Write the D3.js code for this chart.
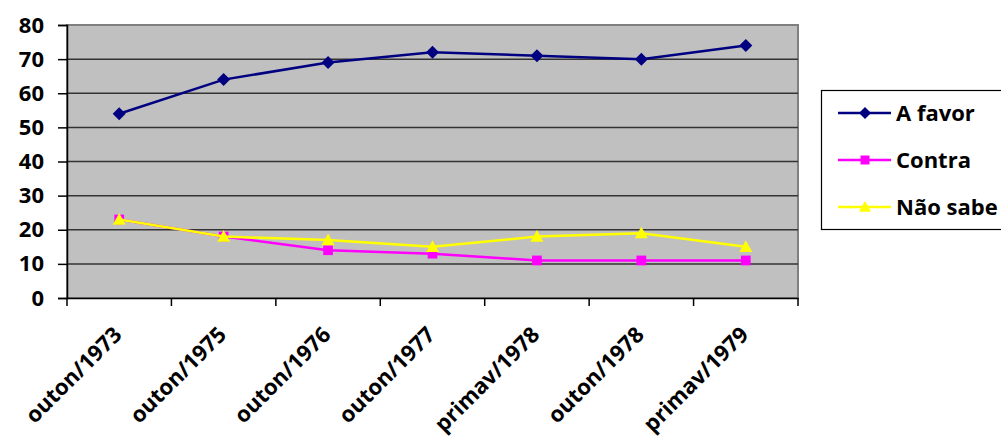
<!DOCTYPE html>
<html><head><meta charset="utf-8">
<script src="https://cdn.jsdelivr.net/npm/d3@7"></script>
<style>body{margin:0;background:#fff}svg{display:block}text{font-family:"Open Sans",sans-serif;font-weight:bold}</style>
</head><body>
<script>
const categories = ["outon/1973","outon/1975","outon/1976","outon/1977","primav/1978","outon/1978","primav/1979"];
const aFavor = [54,64,69,72,71,70,74];
const contra = [23,18,14,13,11,11,11];
const naoSabe = [23,18,17,15,18,19,15];
const yTicks = [0,10,20,30,40,50,60,70,80];
const seriesNames = ["A favor","Contra","Não sabe"];
const series = [
  {name:seriesNames[0], values:aFavor, color:"#000080", shape:"diamond"},
  {name:seriesNames[1], values:contra, color:"#FF00FF", shape:"square"},
  {name:seriesNames[2], values:naoSabe, color:"#FFFF00", shape:"triangle"}
];
const W=1001,H=444;
const svg=d3.select("body").append("svg").attr("width",W).attr("height",H);
const L=67,R=798,T=25,B=298;
const x=d3.scaleBand().domain(categories).range([L,R]);
const y=d3.scaleLinear().domain([0,80]).range([B,T]);
svg.append("rect").attr("x",L).attr("y",T).attr("width",R-L).attr("height",B-T).attr("fill","#C0C0C0").attr("stroke","#808080").attr("stroke-width",2);
svg.append("g").selectAll("line").data(yTicks.filter(d=>d>0&&d<80)).join("line")
  .attr("x1",L).attr("x2",R).attr("y1",d=>y(d)).attr("y2",d=>y(d)).attr("stroke","#333").attr("stroke-width",1.5);
// y axis
const ya=svg.append("g").attr("transform",`translate(${L},0)`).call(d3.axisLeft(y).tickValues(yTicks).tickSize(9).tickPadding(14));
ya.select(".domain").attr("stroke","#000").attr("stroke-width",1.5);
ya.selectAll(".tick line").attr("stroke","#000").attr("stroke-width",1.5);
ya.selectAll("text").attr("font-size",22).attr("fill","#000").attr("font-family","Open Sans").attr("font-weight","bold");
// x axis
const xa=svg.append("g").attr("transform",`translate(0,${B})`).call(d3.axisBottom(x).tickSize(0).tickFormat(""));
xa.select(".domain").attr("stroke","#000").attr("stroke-width",1.5);
const bounds=categories.map((c,i)=>x(c)).concat([R]);
svg.append("g").selectAll("line").data(bounds).join("line")
  .attr("x1",d=>d).attr("x2",d=>d).attr("y1",B).attr("y2",B+8).attr("stroke","#000").attr("stroke-width",1.5);
svg.append("g").selectAll("text").data(categories).join("text")
  .attr("transform",d=>`translate(${x(d)+x.bandwidth()/2+4},${B+38}) rotate(-45)`)
  .attr("text-anchor","end").attr("font-size",22).attr("fill","#000").text(d=>d);
function marker(g,shape,color,s){
  if(shape==="diamond") g.append("path").attr("d",`M0,${-s}L${s},0L0,${s}L${-s},0Z`).attr("fill",color);
  else if(shape==="square") g.append("rect").attr("x",-s*0.75).attr("y",-s*0.75).attr("width",s*1.5).attr("height",s*1.5).attr("fill",color);
  else g.append("path").attr("d",`M0,${-s}L${s},${s*0.8}L${-s},${s*0.8}Z`).attr("fill",color);
}
const line=d3.line().x((d,i)=>x(categories[i])+x.bandwidth()/2).y(d=>y(d));
series.forEach(s=>{
  svg.append("path").datum(s.values).attr("d",line).attr("fill","none").attr("stroke",s.color).attr("stroke-width",2.5);
  s.values.forEach((v,i)=>{
    const g=svg.append("g").attr("transform",`translate(${x(categories[i])+x.bandwidth()/2},${y(v)})`);
    marker(g,s.shape,s.color,6.5);
  });
});
// legend
svg.append("rect").attr("x",821.5).attr("y",90.5).attr("width",190).attr("height",139).attr("fill","#fff").attr("stroke","#000").attr("stroke-width",1.2);
series.forEach((s,i)=>{
  const ly=113+i*47;
  svg.append("line").attr("x1",838).attr("x2",891).attr("y1",ly).attr("y2",ly).attr("stroke",s.color).attr("stroke-width",2.5);
  const g=svg.append("g").attr("transform",`translate(865,${ly})`);
  marker(g,s.shape,s.color,6);
  svg.append("text").attr("x",896).attr("y",ly).attr("dy","0.35em").attr("font-size",22).attr("fill","#000").text(s.name);
});
</script>
</body></html>
